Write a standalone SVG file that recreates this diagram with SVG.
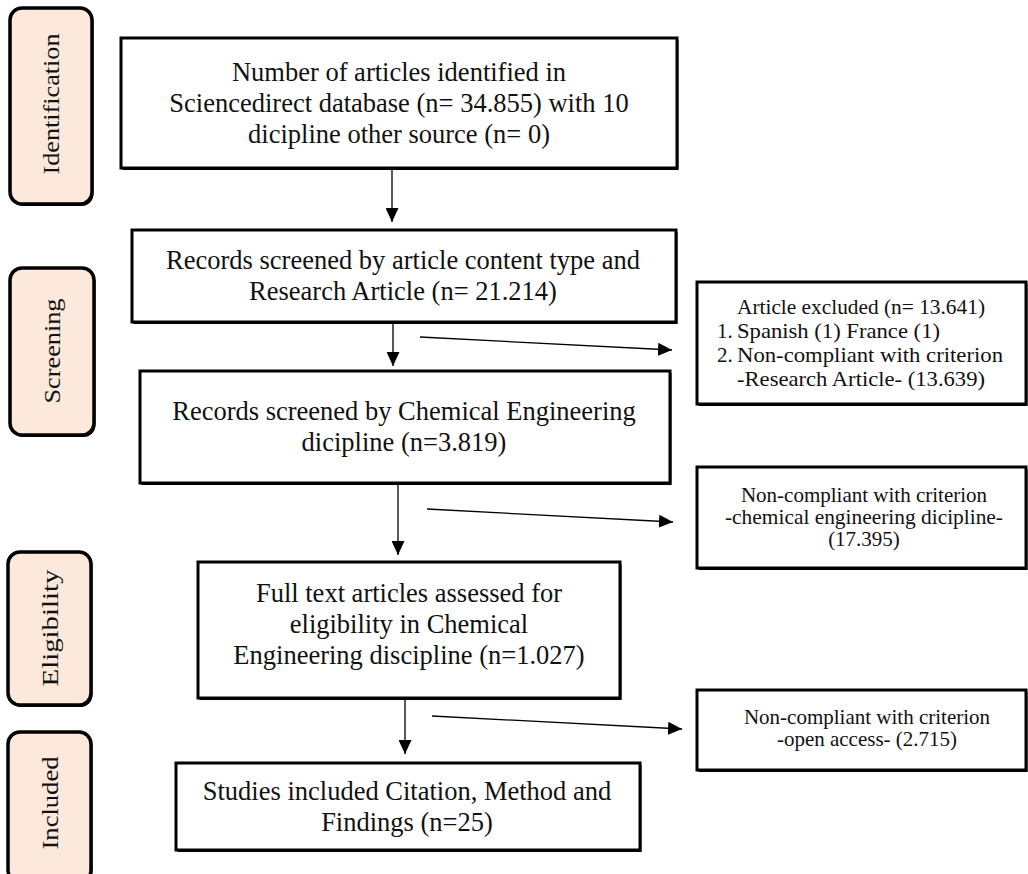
<svg xmlns="http://www.w3.org/2000/svg" width="1028" height="874" viewBox="0 0 1028 874">
<style>
.bg{fill:#fff}
.sh{fill:#000}
.box{fill:#fff;stroke:#000;stroke-width:3}
.stage{fill:#fce9dc;stroke:#000;stroke-width:3.5}
.t{font-family:"Liberation Serif","Times New Roman",serif;font-size:26.5px;fill:#111;text-anchor:middle}
.s{font-family:"Liberation Serif","Times New Roman",serif;font-size:21px;fill:#111;text-anchor:middle}
.sl{font-family:"Liberation Serif","Times New Roman",serif;font-size:21px;fill:#111}
.st{font-family:"Liberation Serif","Times New Roman",serif;font-size:24px;fill:#111;text-anchor:middle}
.c{stroke:#000;stroke-width:1.3;fill:none;marker-end:url(#ah)}
</style>
<defs>
<marker id="ah" markerWidth="14" markerHeight="13" refX="14" refY="6.5" orient="auto" markerUnits="userSpaceOnUse"><path d="M0,0 L14,6.5 L0,13 z" fill="#000"/></marker>
</defs>
<rect class="bg" x="0" y="0" width="1028" height="874"/>

<g id="stage-identification">
<rect class="sh" x="11.5" y="10" width="82" height="196" rx="12"/>
<rect class="stage" x="10" y="8" width="82" height="196" rx="12"/>
<text class="st" transform="translate(51,104) rotate(-90)" x="0" y="8" textLength="141" lengthAdjust="spacingAndGlyphs">Identification</text>
</g>
<g id="stage-screening">
<rect class="sh" x="11.5" y="270" width="84" height="167" rx="12"/>
<rect class="stage" x="10" y="268" width="84" height="167" rx="12"/>
<text class="st" transform="translate(52,351) rotate(-90)" x="0" y="8" textLength="105" lengthAdjust="spacingAndGlyphs">Screening</text>
</g>
<g id="stage-eligibility">
<rect class="sh" x="9.5" y="554" width="83" height="153" rx="12"/>
<rect class="stage" x="8" y="552" width="83" height="153" rx="12"/>
<text class="st" transform="translate(50,628) rotate(-90)" x="0" y="8" textLength="117" lengthAdjust="spacingAndGlyphs">Eligibility</text>
</g>
<g id="stage-included">
<rect class="sh" x="9.5" y="734" width="83" height="150" rx="12"/>
<rect class="stage" x="8" y="732" width="83" height="150" rx="12"/>
<text class="st" transform="translate(50,803) rotate(-90)" x="0" y="8" textLength="93" lengthAdjust="spacingAndGlyphs">Included</text>
</g>

<g id="box-identified">
<rect class="sh" x="122.5" y="40" width="556" height="130"/>
<rect class="box" x="121" y="38" width="556" height="130"/>
<text class="t" x="399" y="81">Number of articles identified in</text>
<text class="t" x="399" y="112">Sciencedirect database (n= 34.855) with 10</text>
<text class="t" x="399" y="143">dicipline other source (n= 0)</text>
</g>
<g id="box-screened-type">
<rect class="sh" x="133.5" y="232" width="544" height="92"/>
<rect class="box" x="132" y="230" width="544" height="92"/>
<text class="t" x="403" y="269">Records screened by article content type and</text>
<text class="t" x="403" y="300">Research Article (n= 21.214)</text>
</g>
<g id="box-screened-discipline">
<rect class="sh" x="141.5" y="373" width="530" height="112"/>
<rect class="box" x="140" y="371" width="530" height="112"/>
<text class="t" x="404" y="420">Records screened by Chemical Engineering</text>
<text class="t" x="404" y="451">dicipline (n=3.819)</text>
</g>
<g id="box-eligibility">
<rect class="sh" x="199.5" y="564" width="422" height="136"/>
<rect class="box" x="198" y="562" width="422" height="136"/>
<text class="t" x="409" y="602">Full text articles assessed for</text>
<text class="t" x="409" y="633">eligibility in Chemical</text>
<text class="t" x="409" y="664">Engineering discipline (n=1.027)</text>
</g>
<g id="box-included">
<rect class="sh" x="177.5" y="765" width="464" height="87"/>
<rect class="box" x="176" y="763" width="464" height="87"/>
<text class="t" x="407" y="800">Studies included Citation, Method and</text>
<text class="t" x="407" y="831">Findings (n=25)</text>
</g>

<g id="side-excluded-1">
<rect class="sh" x="698.5" y="284" width="329" height="122"/>
<rect class="box" x="697" y="282" width="329" height="122"/>
<text class="s" x="861" y="314" textLength="248" lengthAdjust="spacingAndGlyphs">Article excluded (n= 13.641)</text>
<text class="sl" x="717" y="338">1.</text>
<text class="sl" x="737" y="338" textLength="203" lengthAdjust="spacingAndGlyphs">Spanish (1) France (1)</text>
<text class="sl" x="717" y="362">2.</text>
<text class="sl" x="737" y="362" textLength="266" lengthAdjust="spacingAndGlyphs">Non-compliant with criterion</text>
<text class="s" x="861" y="386" textLength="248" lengthAdjust="spacingAndGlyphs">-Research Article- (13.639)</text>
</g>
<g id="side-excluded-2">
<rect class="sh" x="698.5" y="469" width="329" height="101"/>
<rect class="box" x="697" y="467" width="329" height="101"/>
<text class="s" x="864" y="502">Non-compliant with criterion</text>
<text class="s" x="864" y="524" textLength="278" lengthAdjust="spacingAndGlyphs">-chemical engineering dicipline-</text>
<text class="s" x="864" y="546">(17.395)</text>
</g>
<g id="side-excluded-3">
<rect class="sh" x="698.5" y="692" width="329" height="80"/>
<rect class="box" x="697" y="690" width="329" height="80"/>
<text class="s" x="867" y="724">Non-compliant with criterion</text>
<text class="s" x="867" y="746">-open access- (2.715)</text>
</g>

<g id="connectors">
<line class="c" x1="392" y1="170" x2="392" y2="222"/>
<line class="c" x1="393" y1="324" x2="393" y2="366"/>
<line class="c" x1="398" y1="485" x2="398" y2="555"/>
<line class="c" x1="405" y1="700" x2="405" y2="754"/>
<line class="c" x1="420" y1="337" x2="672" y2="350"/>
<line class="c" x1="427" y1="509" x2="673" y2="522"/>
<line class="c" x1="432" y1="716" x2="682" y2="729"/>
</g>
</svg>
